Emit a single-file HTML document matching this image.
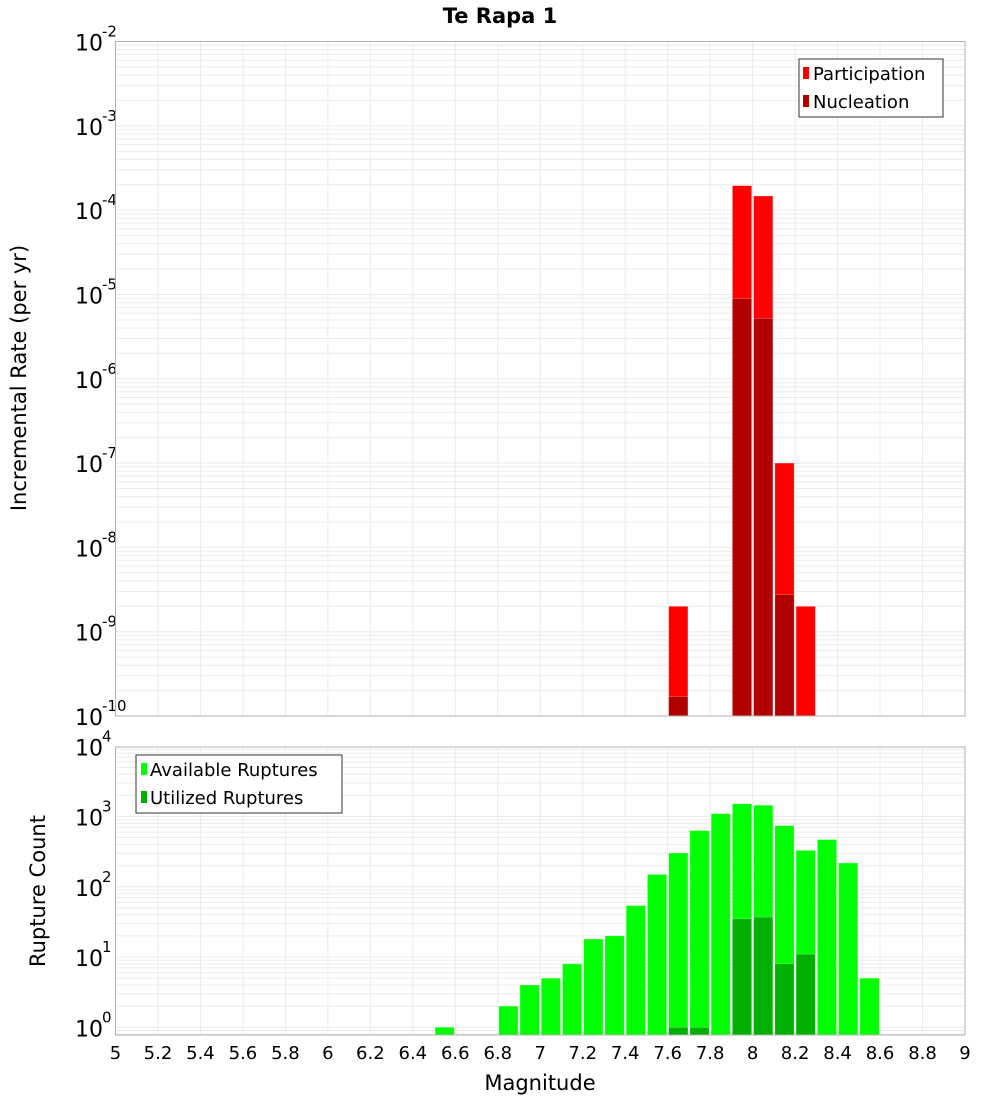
<!DOCTYPE html>
<html><head><meta charset="utf-8"><style>
body{margin:0;background:#fff;}
svg text{font-family:"DejaVu Sans","Liberation Sans",sans-serif;}
</style></head><body>
<svg id="c" width="1000" height="1100" xmlns="http://www.w3.org/2000/svg">
<text x="500" y="23" text-anchor="middle" font-size="21" font-weight="bold">Te Rapa 1</text>
<g id="top"></g>
<g id="bot"></g>
<text transform="translate(26,378) rotate(-90)" text-anchor="middle" font-size="21">Incremental Rate (per yr)</text>
<text transform="translate(45,891) rotate(-90)" text-anchor="middle" font-size="21">Rupture Count</text>
<text x="540" y="1090" text-anchor="middle" font-size="21">Magnitude</text>
<g>
<rect x="799" y="59" width="144" height="58" fill="#fff" stroke="#333"/>
<rect x="803" y="67" width="6" height="12" fill="#ff0000"/>
<text x="813" y="80" font-size="18">Participation</text>
<rect x="803" y="95" width="6" height="12" fill="#b00000"/>
<text x="813" y="108" font-size="18">Nucleation</text>
</g>
<g>
<rect x="136" y="755" width="206" height="58" fill="#fff" stroke="#333"/>
<rect x="141" y="763" width="6" height="12" fill="#00ff00"/>
<text x="150" y="776" font-size="18">Available Ruptures</text>
<rect x="141" y="791" width="6" height="12" fill="#00b000"/>
<text x="150" y="804" font-size="18">Utilized Ruptures</text>
</g>
</svg>
<script>
const rateMags=[7.6,7.9,8.0,8.1,8.2];
const participation=[2.0e-9,1.95e-4,1.47e-4,1.0e-7,2.0e-9];
const nucleation=[1.7e-10,8.9e-6,5.2e-6,2.75e-9,0];
const countMags=[6.5,6.8,6.9,7.0,7.1,7.2,7.3,7.4,7.5,7.6,7.7,7.8,7.9,8.0,8.1,8.2,8.3,8.4,8.5];
const available=[1,2,4,5,8,18,20,54,150,302,630,1100,1520,1450,740,330,470,218,5];
const utilized=[0,0,0,0,0,0,0,0,0,1,1,0,35,37,8,11,0,0,0];
const xTicks=[5,5.2,5.4,5.6,5.8,6,6.2,6.4,6.6,6.8,7,7.2,7.4,7.6,7.8,8,8.2,8.4,8.6,8.8,9];
const topExps=[-2,-3,-4,-5,-6,-7,-8,-9,-10];
const botExps=[0,1,2,3,4];

const NS="http://www.w3.org/2000/svg";
const L=115.5,R=965;
const X=m=>L+(m-5)*(R-L)/4;
function el(p,t,a){const e=document.createElementNS(NS,t);for(const k in a)e.setAttribute(k,a[k]);p.appendChild(e);return e;}
function panel(g,top,bot,lmin,lmax,exps,name){
  const Y=v=>bot-(Math.log10(v)-lmin)*(bot-top)/(lmax-lmin);
  for(let d=Math.floor(lmin);d<lmax;d++)for(let k=1;k<10;k++){const v=k*Math.pow(10,d);const y=Y(v);if(y<top-0.1||y>bot+0.1)continue;
    const ln=el(g,'line',{x1:L,x2:R,y1:y,y2:y,stroke:'#ebebeb','stroke-width':1});
    
    }
  xTicks.forEach(t=>{const ln=el(g,'line',{x1:X(t),x2:X(t),y1:top,y2:bot,stroke:'#ebebeb','stroke-width':1});
    
    });
  exps.forEach(e=>{const y=Y(Math.pow(10,e));const t=el(g,'text',{x:103,y:y+9,'text-anchor':'end','font-size':22});t.textContent='10';
    
    
    const s=el(g,'text',{x:102,y:y-5,'font-size':15});s.textContent=String(e);
    
    });
  return Y;
}
const gt=document.getElementById('top'),gb=document.getElementById('bot');
const Yt=panel(gt,41.5,716,-10,-2,topExps);
function bars(g,Y,mags,vals,color,name,bot){
  mags.forEach((m,i)=>{const v=vals[i];if(!(v>0))return;const y=Y(v);
    const r=el(g,'rect',{x:X(m)+1,y:y,width:X(m+0.1)-X(m)-2,height:bot-y,fill:color,stroke:'rgba(255,255,255,0.4)','stroke-width':0.6});
    
    });
}
bars(gt,Yt,rateMags,participation,'#ff0000','participation-bar',716);
bars(gt,Yt,rateMags,nucleation,'#b00000','nucleation-bar',716);
el(gt,'rect',{x:L,y:41.5,width:R-L,height:716-41.5,fill:'none',stroke:'#b0b0b0'});
const Yb=panel(gb,747,1035,-0.11,3.99,botExps);
bars(gb,Yb,countMags,available,'#00ff00','available-bar',1035);
bars(gb,Yb,countMags,utilized,'#00b000','utilized-bar',1035);
el(gb,'rect',{x:L,y:747,width:R-L,height:1035-747,fill:'none',stroke:'#b0b0b0'});
xTicks.forEach(t=>{const tx=el(gb,'text',{x:X(t),y:1059,'text-anchor':'middle','font-size':18});tx.textContent=String(t);
  
  });
</script>
</body></html>
